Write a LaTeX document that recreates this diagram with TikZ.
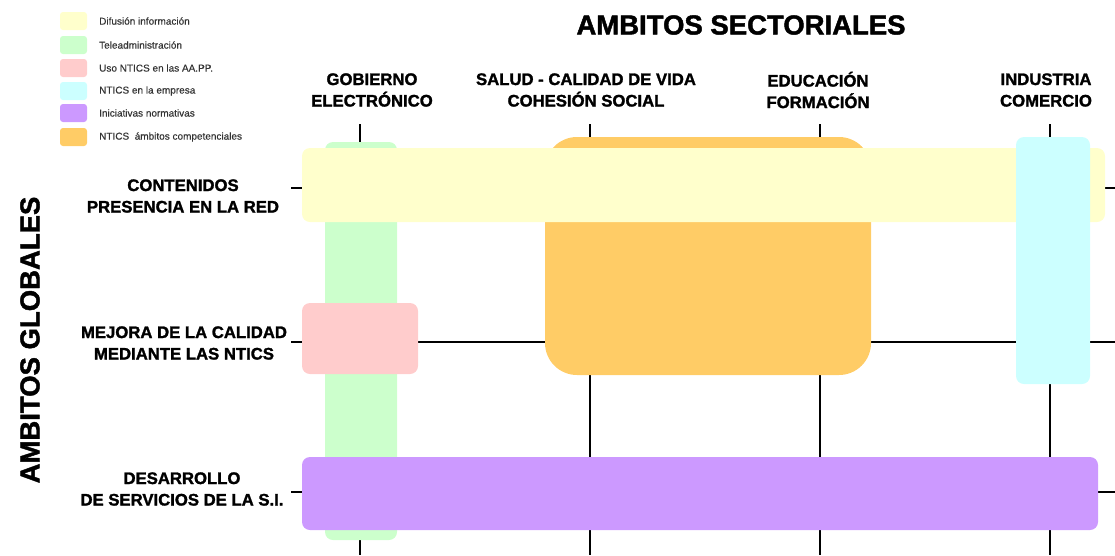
\documentclass[tikz,border=0pt]{standalone}
\usepackage{fontspec}
\setmainfont{Liberation Sans}
\newfontfamily\heavyfont[FakeBold=1.6]{Liberation Sans Bold}
\newfontfamily\legfont[FakeBold=0.4]{Liberation Sans}
\definecolor{cyel}{HTML}{FFFFCC}
\definecolor{cgrn}{HTML}{CCFFCC}
\definecolor{cpnk}{HTML}{FFCCCC}
\definecolor{ccyn}{HTML}{CCFFFF}
\definecolor{cpur}{HTML}{CC99FF}
\definecolor{corg}{HTML}{FFCC66}
\definecolor{ctxt}{HTML}{333333}
\begin{document}
\begin{tikzpicture}[x=1pt,y=-1pt,
  gridline/.style={line width=1.6pt,black},
  band/.style={rounded corners=8pt},
  hdr/.style={font=\fontsize{16.7}{21.5}\heavyfont,align=center,inner sep=0pt},
  big/.style={font=\fontsize{27.5}{30}\heavyfont,inner sep=0pt},
  legtxt/.style={font=\fontsize{10}{12}\legfont,text=ctxt,anchor=west,inner sep=0pt},
  swatch/.style={rounded corners=3pt}]
\useasboundingbox (0,0) rectangle (1115,555);
% grid lines
\foreach \x in {360,590,820,1050} \draw[gridline] (\x,124) -- (\x,555);
\foreach \y in {188,342,492} \draw[gridline] (291,\y) -- (1115,\y);
% bands
\fill[cgrn,band] (325,142) rectangle (397,540);
\fill[corg,rounded corners=32pt] (545,137) rectangle (871,375);
\fill[cyel,band] (302,148) rectangle (1105,222);
\fill[ccyn,band] (1016,137) rectangle (1090,384);
\fill[cpnk,band] (302,303) rectangle (418,374);
\fill[cpur,band] (302,457) rectangle (1098,530);
% legend
\foreach \c/\y/\t/\n in {cyel/21/{Difusión información}/l1,
                         cgrn/45/{Teleadministración}/l2,
                         cpnk/68/{Uso NTICS en las AA.PP.}/l3,
                         ccyn/91/{NTICS en la empresa}/l4,
                         cpur/113/{Iniciativas normativas}/l5,
                         corg/137/{NTICS\ \ ámbitos competenciales}/l6} {
  \fill[\c,swatch] (60,\y-9) rectangle (87,\y+9);
  \node[legtxt] (\n) at (99,\y) {\t};
}
% titles
\node[big] (tsect) at (741,25) {AMBITOS SECTORIALES};
\node[big,rotate=90] (tglob) at (30,340) {AMBITOS GLOBALES};
% column headers
\node[hdr] (c1) at (372,90) {GOBIERNO\\ELECTRÓNICO};
\node[hdr] (c2) at (586,90) {SALUD - CALIDAD DE VIDA\\COHESIÓN SOCIAL};
\node[hdr] (c3) at (818,90) {EDUCACIÓN\\FORMACIÓN};
\node[hdr] (c4) at (1046,90) {INDUSTRIA\\COMERCIO};
% row headers
\node[hdr] (r1) at (183,196) {CONTENIDOS\\PRESENCIA EN LA RED};
\node[hdr] (r2) at (184,343) {MEJORA DE LA CALIDAD\\MEDIANTE LAS NTICS};
\node[hdr] (r3) at (182,489) {DESARROLLO\\DE SERVICIOS DE LA S.I.};
\end{tikzpicture}
\end{document}
